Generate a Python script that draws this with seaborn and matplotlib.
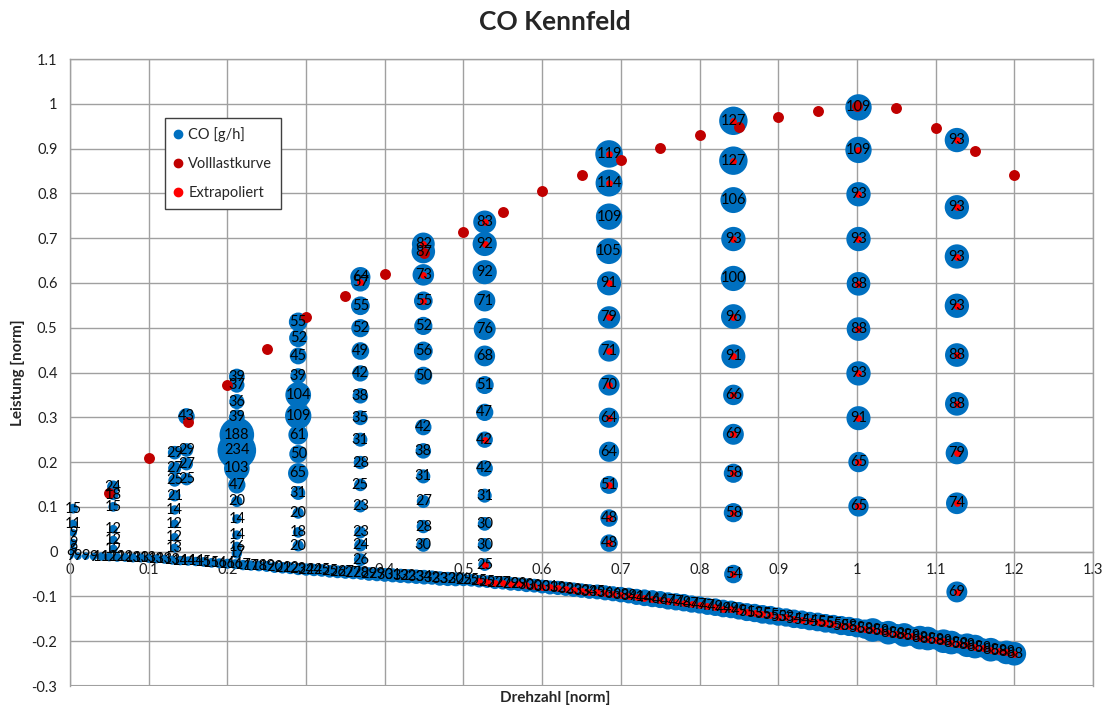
import matplotlib
matplotlib.use("Agg")
import matplotlib.pyplot as plt
import numpy as np
import pandas as pd
import seaborn as sns
from matplotlib.lines import Line2D
from matplotlib.ticker import MultipleLocator, FuncFormatter

# ---------------------------------------------------------------------------
# Measured operating points: one list per speed column (load, CO value, flag
# whether the point is also marked as extrapolated)
# ---------------------------------------------------------------------------
col_x = [0.004, 0.055, 0.133, 0.148, 0.212, 0.290, 0.369, 0.449, 0.527, 0.685, 0.843, 1.002, 1.127]

col_load = [
    [0.096, 0.062, 0.042, 0.020, 0.004],
    [0.145, 0.127, 0.100, 0.050, 0.026, 0.006],
    [0.221, 0.186, 0.159, 0.125, 0.093, 0.062, 0.032, 0.008],
    [0.302, 0.227, 0.196, 0.162],
    [0.391, 0.372, 0.335, 0.300, 0.261, 0.226, 0.186, 0.149, 0.112, 0.073, 0.037, 0.011, -0.004],
    [0.513, 0.477, 0.437, 0.392, 0.350, 0.303, 0.261, 0.218, 0.175, 0.131, 0.086, 0.043, 0.013],
    [0.613, 0.602, 0.549, 0.499, 0.448, 0.398, 0.348, 0.299, 0.250, 0.199, 0.149, 0.101, 0.043, 0.014, -0.018],
    [0.687, 0.670, 0.618, 0.560, 0.504, 0.448, 0.393, 0.278, 0.225, 0.168, 0.112, 0.056, 0.015],
    [0.736, 0.687, 0.624, 0.560, 0.497, 0.437, 0.372, 0.311, 0.250, 0.186, 0.125, 0.062, 0.015, -0.029],
    [0.888, 0.823, 0.748, 0.671, 0.599, 0.523, 0.448, 0.372, 0.299, 0.223, 0.149, 0.075, 0.019],
    [0.962, 0.873, 0.785, 0.698, 0.610, 0.525, 0.436, 0.350, 0.262, 0.175, 0.087, -0.050],
    [0.992, 0.897, 0.798, 0.698, 0.598, 0.497, 0.398, 0.298, 0.200, 0.101],
    [0.919, 0.769, 0.659, 0.549, 0.439, 0.330, 0.220, 0.108, -0.090],
]

col_co = [
    [15, 11, 9, 9, 9],
    [24, 18, 15, 12, 12, 12],
    [29, 27, 25, 21, 14, 12, 12, 13],
    [43, 29, 27, 25],
    [39, 37, 36, 39, 188, 234, 103, 47, 20, 14, 14, 16, 17],
    [55, 52, 45, 39, 104, 109, 61, 50, 65, 31, 20, 18, 20],
    [64, 57, 55, 52, 49, 42, 38, 35, 31, 28, 25, 23, 23, 24, 26],
    [82, 87, 73, 55, 52, 56, 50, 42, 38, 31, 27, 28, 30],
    [83, 92, 92, 71, 76, 68, 51, 47, 42, 42, 31, 30, 30, 25],
    [119, 114, 109, 105, 91, 79, 71, 70, 64, 64, 51, 48, 48],
    [127, 127, 106, 93, 100, 96, 91, 66, 69, 58, 58, 54],
    [109, 109, 93, 93, 88, 88, 93, 91, 65, 65],
    [93, 93, 93, 93, 88, 88, 79, 74, 69],
]

col_extrap = [
    [0, 0, 0, 0, 0],
    [0, 0, 0, 0, 0, 0],
    [0, 0, 0, 0, 0, 0, 0, 0],
    [0, 0, 0, 0],
    [0, 0, 0, 0, 0, 0, 0, 0, 0, 0, 0, 0, 0],
    [0, 0, 0, 0, 0, 0, 0, 0, 0, 0, 0, 0, 0],
    [0, 1, 0, 0, 0, 0, 0, 0, 0, 0, 0, 0, 0, 0, 0],
    [1, 0, 1, 1, 0, 0, 0, 0, 0, 0, 0, 0, 0],
    [1, 1, 0, 0, 0, 0, 0, 0, 1, 0, 0, 0, 0, 1],
    [1, 1, 0, 0, 1, 1, 1, 1, 1, 0, 1, 1, 1],
    [1, 1, 0, 1, 0, 1, 1, 1, 1, 1, 1, 1],
    [0, 1, 1, 1, 1, 1, 1, 1, 1, 1],
    [1, 1, 1, 1, 1, 1, 1, 1, 1],
]

# ---------------------------------------------------------------------------
# Motoring (drag) curve below zero load
# ---------------------------------------------------------------------------
drag_speed = [
    0.00, 0.01, 0.02, 0.03, 0.04, 0.05, 0.06, 0.07, 0.08, 0.09,
    0.10, 0.11, 0.12, 0.13, 0.14, 0.15, 0.16, 0.17, 0.18, 0.19,
    0.20, 0.21, 0.22, 0.23, 0.24, 0.25, 0.26, 0.27, 0.28, 0.29,
    0.30, 0.31, 0.32, 0.33, 0.34, 0.35, 0.36, 0.37, 0.38, 0.39,
    0.40, 0.41, 0.42, 0.43, 0.44, 0.45, 0.46, 0.47, 0.48, 0.49,
    0.50, 0.51, 0.52, 0.53, 0.54, 0.55, 0.56, 0.57, 0.58, 0.59,
    0.60, 0.61, 0.62, 0.63, 0.64, 0.65, 0.66, 0.67, 0.68, 0.69,
    0.70, 0.71, 0.72, 0.73, 0.74, 0.75, 0.76, 0.77, 0.78, 0.79,
    0.80, 0.81, 0.82, 0.83, 0.84, 0.85, 0.86, 0.87, 0.88, 0.89,
    0.90, 0.91, 0.92, 0.93, 0.94, 0.95, 0.96, 0.97, 0.98, 0.99,
    1.00, 1.01, 1.02, 1.03, 1.04, 1.05, 1.06, 1.07, 1.08, 1.09,
    1.10, 1.11, 1.12, 1.13, 1.14, 1.15, 1.16, 1.17, 1.18, 1.19,
    1.20,
]
drag_load = [
    -0.009, -0.010, -0.010, -0.011, -0.011, -0.012, -0.013, -0.013, -0.014, -0.014,
    -0.015, -0.016, -0.017, -0.019, -0.020, -0.021, -0.022, -0.023, -0.025, -0.026,
    -0.027, -0.028, -0.030, -0.031, -0.032, -0.033, -0.035, -0.036, -0.037, -0.039,
    -0.040, -0.041, -0.042, -0.044, -0.045, -0.046, -0.047, -0.048, -0.050, -0.051,
    -0.052, -0.053, -0.054, -0.055, -0.056, -0.057, -0.058, -0.060, -0.061, -0.062,
    -0.063, -0.064, -0.066, -0.067, -0.069, -0.070, -0.072, -0.073, -0.075, -0.076,
    -0.078, -0.080, -0.081, -0.083, -0.085, -0.087, -0.089, -0.090, -0.092, -0.094,
    -0.096, -0.098, -0.101, -0.103, -0.105, -0.107, -0.110, -0.112, -0.114, -0.117,
    -0.119, -0.122, -0.124, -0.127, -0.129, -0.132, -0.135, -0.137, -0.140, -0.142,
    -0.145, -0.147, -0.150, -0.152, -0.155, -0.157, -0.160, -0.162, -0.165, -0.167,
    -0.170, -0.173, -0.175, -0.178, -0.181, -0.183, -0.186, -0.189, -0.192, -0.194,
    -0.197, -0.200, -0.203, -0.206, -0.209, -0.212, -0.215, -0.219, -0.222, -0.225,
    -0.228,
]
drag_co = [
    9, 9, 9, 9, 11, 12, 12, 12, 13, 13,
    13, 13, 13, 13, 14, 14, 14, 15, 15, 16,
    16, 16, 17, 17, 18, 19, 20, 21, 22, 23,
    24, 24, 25, 25, 26, 27, 27, 28, 29, 29,
    30, 31, 32, 32, 33, 34, 32, 33, 32, 30,
    25, 25, 25, 25, 27, 27, 29, 29, 30, 30,
    30, 31, 32, 32, 33, 33, 34, 35, 36, 36,
    38, 39, 41, 44, 46, 46, 47, 47, 48, 47,
    47, 47, 49, 49, 49, 49, 51, 53, 55, 55,
    53, 53, 54, 54, 54, 55, 55, 55, 58, 58,
    58, 58, 88, 58, 88, 58, 88, 58, 88, 88,
    58, 88, 88, 58, 88, 88, 58, 88, 58, 88,
    88,
]
drag_extrap_from = 0.52

# ---------------------------------------------------------------------------
# Full-load curve
# ---------------------------------------------------------------------------
full_speed = [0.05, 0.10, 0.15, 0.20, 0.25, 0.30, 0.35, 0.40, 0.45, 0.50, 0.55, 0.60,
              0.65, 0.70, 0.75, 0.80, 0.85, 0.90, 0.95, 1.00, 1.05, 1.10, 1.15, 1.20]
full_load = [0.130, 0.210, 0.290, 0.372, 0.452, 0.523, 0.570, 0.619, 0.667, 0.713, 0.758, 0.806,
             0.842, 0.875, 0.902, 0.930, 0.948, 0.970, 0.984, 0.995, 0.990, 0.947, 0.894, 0.840]

x_ticks_max = 1.3
y_min, y_max = -0.3, 1.1

# ---------------------------------------------------------------------------
# Assemble tables
# ---------------------------------------------------------------------------
rows = []
for cx, loads, cos, flags in zip(col_x, col_load, col_co, col_extrap):
    for ld, co, fl in zip(loads, cos, flags):
        rows.append((cx, ld, co, fl))
for sp, ld, co in zip(drag_speed, drag_load, drag_co):
    rows.append((sp, ld, co, 1 if sp >= drag_extrap_from else 0))
co_df = pd.DataFrame(rows, columns=["Drehzahl", "Leistung", "CO", "extrap"])
ex_df = co_df[co_df["extrap"] == 1]
full_df = pd.DataFrame({"Drehzahl": full_speed, "Leistung": full_load})

# ---------------------------------------------------------------------------
# Figure
# ---------------------------------------------------------------------------
sns.set_theme(style="white")
plt.rcParams["font.family"] = ["Lato", "DejaVu Sans"]

BLUE = "#0070C0"
DARKRED = "#C00000"
RED = "#FF0000"
GRID = "#A0A0A0"

W, H = 1109, 706
fig = plt.figure(figsize=(W / 100, H / 100), dpi=100)
ax = fig.add_axes([70 / W, 20 / H, (1093 - 70) / W, (686 - 59) / H])

# bubbles: area proportional to CO value
sns.scatterplot(data=co_df, x="Drehzahl", y="Leistung", size="CO",
                sizes=(0, 3.3 * 300), size_norm=(0, 300),
                color=BLUE, linewidth=0, alpha=1, legend=False, ax=ax, zorder=3)
sns.scatterplot(data=full_df, x="Drehzahl", y="Leistung", color=DARKRED, s=62,
                linewidth=0, legend=False, ax=ax, zorder=4)
sns.scatterplot(data=ex_df, x="Drehzahl", y="Leistung", color=RED, s=24,
                linewidth=0, legend=False, ax=ax, zorder=5)

for _, r in co_df.iterrows():
    ax.text(r["Drehzahl"], r["Leistung"], f"{int(r['CO'])}", ha="center", va="center",
            fontsize=10.5, color="black", zorder=6)

ax.set_xlim(0, x_ticks_max)
ax.set_ylim(y_min, y_max)
ax.xaxis.set_major_locator(MultipleLocator(0.1))
ax.yaxis.set_major_locator(MultipleLocator(0.1))
fmt = FuncFormatter(lambda v, p: f"{round(v, 1):g}" if abs(v) > 1e-9 else "0")
ax.xaxis.set_major_formatter(fmt)
ax.yaxis.set_major_formatter(fmt)

ax.grid(True, color=GRID, linewidth=1, zorder=0)
ax.set_axisbelow(True)
for side in ["top", "right", "left"]:
    ax.spines[side].set_color(GRID)
    ax.spines[side].set_linewidth(1)
ax.spines["bottom"].set_position(("data", 0))
ax.spines["bottom"].set_color(GRID)
ax.spines["bottom"].set_linewidth(1)
ax.axhline(y_min, color=GRID, linewidth=1.5, zorder=0)

ax.tick_params(axis="both", length=0, labelsize=10.5, colors="#202020")
ax.tick_params(axis="x", pad=8)
ax.tick_params(axis="y", pad=9)
ax.set_xlabel("")
ax.set_ylabel("")

fig.text(0.5, 1 - 22 / H, "CO Kennfeld", ha="center", va="center",
         fontsize=19, fontweight="bold")
fig.text(555 / W, 1 - 698 / H, "Drehzahl [norm]", ha="center", va="center",
         fontsize=11, fontweight="bold")
fig.text(18 / W, 1 - 373 / H, "Leistung [norm]", ha="center", va="center",
         rotation=90, fontsize=11, fontweight="bold")

handles = [
    Line2D([], [], ls="", marker="o", markersize=6, color=BLUE, label="CO [g/h]"),
    Line2D([], [], ls="", marker="o", markersize=6, color=DARKRED, label="Volllastkurve"),
    Line2D([], [], ls="", marker="o", markersize=6, color=RED, label="Extrapoliert"),
]
leg = fig.legend(handles=handles, loc="upper left", bbox_to_anchor=(165 / W, 1 - 118 / H),
                 borderaxespad=0, frameon=True, fancybox=False, framealpha=1,
                 edgecolor="#404040", fontsize=10.5, handlelength=0.6, handletextpad=0.4,
                 labelspacing=1.05, borderpad=0.6)
leg.get_frame().set_linewidth(1)

fig.savefig("out.png", dpi=100)
